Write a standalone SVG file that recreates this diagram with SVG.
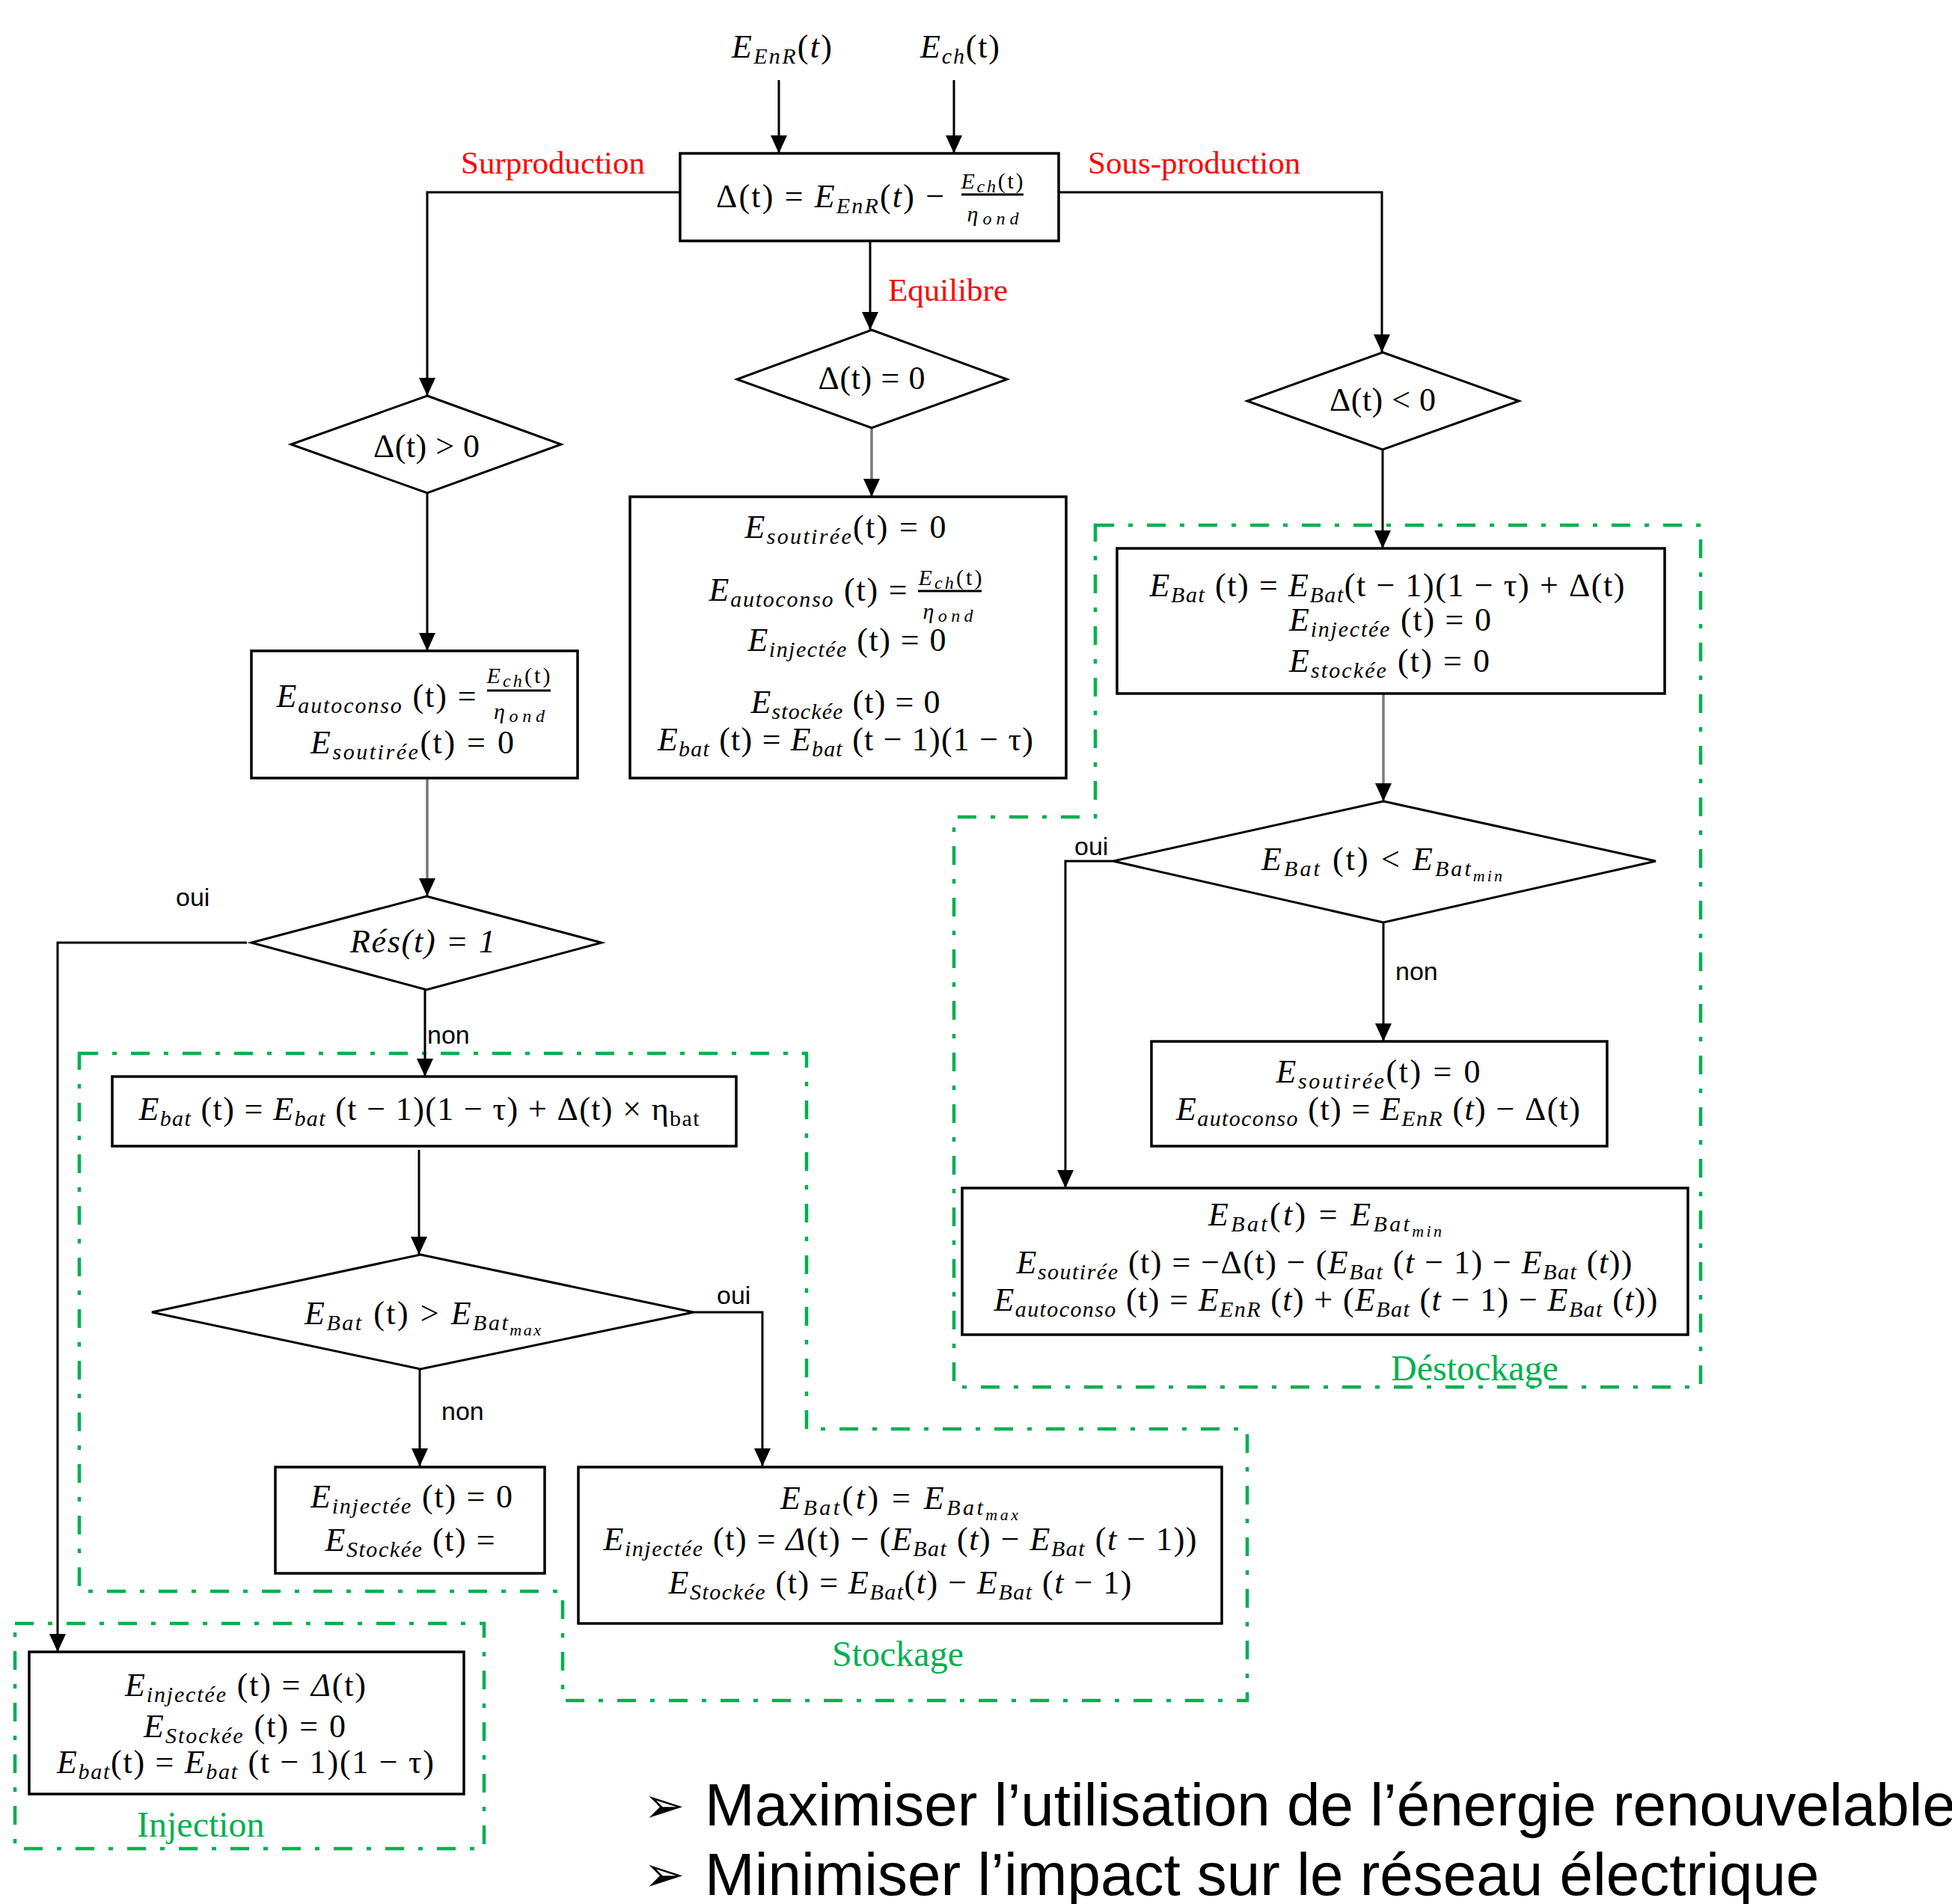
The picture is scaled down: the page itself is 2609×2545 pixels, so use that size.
<svg xmlns="http://www.w3.org/2000/svg" width="2609" height="2545" viewBox="0 0 2609 2545">
<defs>
<style>
.m{font-family:"Liberation Serif","DejaVu Serif",serif;font-size:44px;fill:#000}
.c{text-anchor:middle}
.i{font-style:italic}
.s{font-size:30px;font-style:italic}
.ss{font-size:22px;font-style:italic}
.f{font-family:"Liberation Serif","DejaVu Serif",serif;font-size:30px;fill:#000}
.fs{font-size:24px;font-style:italic}
.lbl{font-family:"Liberation Sans",Arial,sans-serif;font-size:34px;fill:#000}
.red{font-family:"Liberation Serif",serif;font-size:43px;fill:#FF0000}
.grn{font-family:"Liberation Serif",serif;font-size:48px;fill:#00B050}
.box{fill:#fff;stroke:#000;stroke-width:3.5}
.dia{fill:#fff;stroke:#000;stroke-width:3}
.ln{fill:none;stroke:#000;stroke-width:3}
.gl{fill:none;stroke:#7a7a7a;stroke-width:3.5}
.zone{fill:none;stroke:#00B050;stroke-width:4.5;stroke-dasharray:25 19 6 19}
.big{font-family:"Liberation Sans",Arial,sans-serif;font-size:80px;fill:#000}
.bul{font-family:"DejaVu Sans",sans-serif;font-size:66px;fill:#000}
</style>
<marker id="ar" viewBox="0 0 24 22" refX="24" refY="11" markerWidth="24" markerHeight="22" markerUnits="userSpaceOnUse" orient="auto"><path d="M0,0 L24,11 L0,22 z" fill="#000"/></marker>
</defs>
<rect width="2609" height="2545" fill="#fff"/>

<g id="zones">
<path class="zone" d="M1464,702 L2273,702 L2273,1854 L1275,1854 L1275,1092 L1464,1092 Z"/>
<path class="zone" d="M106,1408 L1078,1408 L1078,1910 L1667,1910 L1667,2273 L752,2273 L752,2127 L106,2127 Z"/>
<rect class="zone" x="20" y="2170" width="627" height="301"/>
<text class="grn" x="1859" y="1845">Déstockage</text>
<text class="grn" x="1112" y="2227">Stockage</text>
<text class="grn" x="183" y="2455">Injection</text>
</g>

<g id="connectors">
<line class="ln" x1="1041" y1="107" x2="1041" y2="205" marker-end="url(#ar)"/>
<line class="ln" x1="1275" y1="107" x2="1275" y2="205" marker-end="url(#ar)"/>
<polyline class="ln" points="909,257 571,257 571,529" marker-end="url(#ar)"/>
<polyline class="ln" points="1415,257 1847,257 1847,471" marker-end="url(#ar)"/>
<line class="ln" x1="1163" y1="322" x2="1163" y2="441" marker-end="url(#ar)"/>
<line class="gl" x1="1165" y1="572" x2="1165" y2="664" marker-end="url(#ar)"/>
<line class="ln" x1="571" y1="659" x2="571" y2="870" marker-end="url(#ar)"/>
<line class="ln" x1="1848" y1="601" x2="1848" y2="733" marker-end="url(#ar)"/>
<line class="gl" x1="1849" y1="927" x2="1849" y2="1071" marker-end="url(#ar)"/>
<polyline class="ln" points="1488,1151 1424,1151 1424,1588" marker-end="url(#ar)"/>
<line class="ln" x1="1849" y1="1233" x2="1849" y2="1392" marker-end="url(#ar)"/>
<line class="gl" x1="571" y1="1040" x2="571" y2="1198" marker-end="url(#ar)"/>
<polyline class="ln" points="330,1260 77,1260 77,2208" marker-end="url(#ar)"/>
<line class="ln" x1="568" y1="1323" x2="568" y2="1439" marker-end="url(#ar)"/>
<line class="ln" x1="560" y1="1537" x2="560" y2="1677" marker-end="url(#ar)"/>
<polyline class="ln" points="927,1754 1019,1754 1019,1960" marker-end="url(#ar)"/>
<line class="ln" x1="561" y1="1830" x2="561" y2="1960" marker-end="url(#ar)"/>
<text class="red" x="616" y="232">Surproduction</text>
<text class="red" x="1454" y="232">Sous-production</text>
<text class="red" x="1187" y="402">Equilibre</text>
<text class="lbl" x="1436" y="1143">oui</text>
<text class="lbl" x="1865" y="1310">non</text>
<text class="lbl" x="235" y="1211">oui</text>
<text class="lbl" x="571" y="1395">non</text>
<text class="lbl" x="958" y="1743">oui</text>
<text class="lbl" x="590" y="1898">non</text>
</g>

<g id="inputs">
<text class="m c" x="1045" y="77" textLength="134"><tspan class="i">E</tspan><tspan class="s" dy="8">EnR</tspan><tspan dy="-8">(</tspan><tspan class="i">t</tspan><tspan>)</tspan></text>
<text class="m c" x="1283" y="77" textLength="106"><tspan class="i">E</tspan><tspan class="s" dy="8">ch</tspan><tspan dy="-8">(t)</tspan></text>
</g>

<g id="delta-box">
<rect class="box" x="909" y="205" width="506" height="117"/>
<text class="m" x="957" y="277" textLength="305"><tspan>Δ(t) = </tspan><tspan class="i">E</tspan><tspan class="s" dy="8">EnR</tspan><tspan dy="-8">(</tspan><tspan class="i">t</tspan><tspan>) −</tspan></text>
<text class="f c" x="1326" y="252" textLength="83"><tspan class="i">E</tspan><tspan class="fs" dy="5">ch</tspan><tspan dy="-5">(t)</tspan></text>
<line x1="1285" y1="260" x2="1368" y2="260" stroke="#000" stroke-width="3"/>
<text class="f c i" x="1327" y="296" textLength="69">η<tspan class="fs" dy="4">ond</tspan></text>
</g>

<g id="d-pos">
<polygon class="dia" points="571,529 750,594 571,659 389,594"/>
<text class="m c" x="570" y="611" textLength="142">Δ(t) &gt; 0</text>
</g>
<g id="d-zero">
<polygon class="dia" points="1165,441 1346,507 1165,572 985,507"/>
<text class="m c" x="1165" y="520" textLength="143">Δ(t) = 0</text>
</g>
<g id="d-neg">
<polygon class="dia" points="1848,471 2030,536 1848,601 1667,536"/>
<text class="m c" x="1848" y="549" textLength="142">Δ(t) &lt; 0</text>
</g>

<g id="box-pos">
<rect class="box" x="336" y="870" width="436" height="170"/>
<text class="m c" x="503" y="945" textLength="267"><tspan class="i">E</tspan><tspan class="s" dy="8">autoconso</tspan><tspan dy="-8"> (t) =</tspan></text>
<text class="f c" x="693" y="913" textLength="85"><tspan class="i">E</tspan><tspan class="fs" dy="5">ch</tspan><tspan dy="-5">(t)</tspan></text>
<line x1="651" y1="923" x2="736" y2="923" stroke="#000" stroke-width="3"/>
<text class="f c i" x="694" y="961" textLength="68">η<tspan class="fs" dy="4">ond</tspan></text>
<text class="m c" x="551" y="1007" textLength="272"><tspan class="i">E</tspan><tspan class="s" dy="8">soutirée</tspan><tspan dy="-8">(t) = 0</tspan></text>
</g>

<g id="box-zero">
<rect class="box" x="842" y="664" width="583" height="376"/>
<text class="m c" x="1130" y="719" textLength="269"><tspan class="i">E</tspan><tspan class="s" dy="8">soutirée</tspan><tspan dy="-8">(t) = 0</tspan></text>
<text class="m c" x="1080" y="803" textLength="265"><tspan class="i">E</tspan><tspan class="s" dy="8">autoconso</tspan><tspan dy="-8"> (t) =</tspan></text>
<text class="f c" x="1270" y="782" textLength="85"><tspan class="i">E</tspan><tspan class="fs" dy="5">ch</tspan><tspan dy="-5">(t)</tspan></text>
<line x1="1227" y1="790" x2="1312" y2="790" stroke="#000" stroke-width="3"/>
<text class="f c i" x="1267" y="827" textLength="67">η<tspan class="fs" dy="4">ond</tspan></text>
<text class="m c" x="1132" y="870" textLength="265"><tspan class="i">E</tspan><tspan class="s" dy="8">injectée</tspan><tspan dy="-8"> (t) = 0</tspan></text>
<text class="m c" x="1130" y="953" textLength="253"><tspan class="i">E</tspan><tspan class="s" dy="8">stockée</tspan><tspan dy="-8"> (t) = 0</tspan></text>
<text class="m c" x="1130" y="1003" textLength="502"><tspan class="i">E</tspan><tspan class="s" dy="8">bat</tspan><tspan dy="-8"> (t) = </tspan><tspan class="i">E</tspan><tspan class="s" dy="8">bat</tspan><tspan dy="-8"> (t − 1)(1 − τ)</tspan></text>
</g>

<g id="box-neg">
<rect class="box" x="1493" y="733" width="732" height="194"/>
<text class="m c" x="1854" y="797" textLength="635"><tspan class="i">E</tspan><tspan class="s" dy="8">Bat</tspan><tspan dy="-8"> (t) = </tspan><tspan class="i">E</tspan><tspan class="s" dy="8">Bat</tspan><tspan dy="-8">(t − 1)(1 − τ) + Δ(t)</tspan></text>
<text class="m c" x="1858" y="843" textLength="270"><tspan class="i">E</tspan><tspan class="s" dy="8">injectée</tspan><tspan dy="-8"> (t) = 0</tspan></text>
<text class="m c" x="1857" y="898" textLength="268"><tspan class="i">E</tspan><tspan class="s" dy="8">stockée</tspan><tspan dy="-8"> (t) = 0</tspan></text>
</g>

<g id="d-min">
<polygon class="dia" points="1849,1071 2213,1151 1849,1233 1488,1151"/>
<text class="m c" x="1847" y="1163" textLength="322"><tspan class="i">E</tspan><tspan class="s" dy="8">Bat</tspan><tspan dy="-8"> (t) &lt; </tspan><tspan class="i">E</tspan><tspan class="s" dy="8">Bat</tspan><tspan class="ss" dy="7">min</tspan></text>
</g>

<g id="box-min-non">
<rect class="box" x="1539" y="1392" width="609" height="140"/>
<text class="m c" x="1842" y="1447" textLength="273"><tspan class="i">E</tspan><tspan class="s" dy="8">soutirée</tspan><tspan dy="-8">(t) = 0</tspan></text>
<text class="m c" x="1842" y="1497" textLength="540"><tspan class="i">E</tspan><tspan class="s" dy="8">autoconso</tspan><tspan dy="-8"> (t) = </tspan><tspan class="i">E</tspan><tspan class="s" dy="8">EnR</tspan><tspan dy="-8"> (</tspan><tspan class="i">t</tspan><tspan>) − Δ(t)</tspan></text>
</g>

<g id="box-min-oui">
<rect class="box" x="1286" y="1588" width="970" height="196"/>
<text class="m c" x="1771" y="1638" textLength="312"><tspan class="i">E</tspan><tspan class="s" dy="8">Bat</tspan><tspan dy="-8">(</tspan><tspan class="i">t</tspan><tspan>) = </tspan><tspan class="i">E</tspan><tspan class="s" dy="8">Bat</tspan><tspan class="ss" dy="7">min</tspan></text>
<text class="m c" x="1770" y="1702" textLength="823"><tspan class="i">E</tspan><tspan class="s" dy="8">soutirée</tspan><tspan dy="-8"> (t) = −Δ(t) − (</tspan><tspan class="i">E</tspan><tspan class="s" dy="8">Bat</tspan><tspan dy="-8"> (</tspan><tspan class="i">t</tspan><tspan> − 1) − </tspan><tspan class="i">E</tspan><tspan class="s" dy="8">Bat</tspan><tspan dy="-8"> (</tspan><tspan class="i">t</tspan><tspan>))</tspan></text>
<text class="m c" x="1772" y="1752" textLength="887"><tspan class="i">E</tspan><tspan class="s" dy="8">autoconso</tspan><tspan dy="-8"> (t) = </tspan><tspan class="i">E</tspan><tspan class="s" dy="8">EnR</tspan><tspan dy="-8"> (</tspan><tspan class="i">t</tspan><tspan>) + (</tspan><tspan class="i">E</tspan><tspan class="s" dy="8">Bat</tspan><tspan dy="-8"> (</tspan><tspan class="i">t</tspan><tspan> − 1) − </tspan><tspan class="i">E</tspan><tspan class="s" dy="8">Bat</tspan><tspan dy="-8"> (</tspan><tspan class="i">t</tspan><tspan>))</tspan></text>
</g>

<g id="d-res">
<polygon class="dia" points="570,1198 804,1260 570,1323 336,1260"/>
<text class="m c i" x="565" y="1273" textLength="194">Rés(t) = 1</text>
</g>

<g id="box-charge">
<rect class="box" x="150" y="1439" width="834" height="93"/>
<text class="m c" x="560" y="1497" textLength="749"><tspan class="i">E</tspan><tspan class="s" dy="8">bat</tspan><tspan dy="-8"> (t) = </tspan><tspan class="i">E</tspan><tspan class="s" dy="8">bat</tspan><tspan dy="-8"> (t − 1)(1 − τ) + Δ(t) × η</tspan><tspan dy="8" style="font-size:30px">bat</tspan></text>
</g>

<g id="d-max">
<polygon class="dia" points="562,1677 927,1754 562,1830 203,1754"/>
<text class="m c" x="565" y="1770" textLength="316"><tspan class="i">E</tspan><tspan class="s" dy="8">Bat</tspan><tspan dy="-8"> (t) &gt; </tspan><tspan class="i">E</tspan><tspan class="s" dy="8">Bat</tspan><tspan class="ss" dy="7">max</tspan></text>
</g>

<g id="box-max-non">
<rect class="box" x="368" y="1961" width="360" height="142"/>
<text class="m c" x="550" y="2015" textLength="270"><tspan class="i">E</tspan><tspan class="s" dy="8">injectée</tspan><tspan dy="-8"> (t) = 0</tspan></text>
<text class="m c" x="548" y="2073" textLength="227"><tspan class="i">E</tspan><tspan class="s" dy="8">Stockée</tspan><tspan dy="-8"> (t) =</tspan></text>
</g>

<g id="box-max-oui">
<rect class="box" x="773" y="1961" width="860" height="209"/>
<text class="m c" x="1202" y="2017" textLength="318"><tspan class="i">E</tspan><tspan class="s" dy="8">Bat</tspan><tspan dy="-8">(</tspan><tspan class="i">t</tspan><tspan>) = </tspan><tspan class="i">E</tspan><tspan class="s" dy="8">Bat</tspan><tspan class="ss" dy="7">max</tspan></text>
<text class="m c" x="1203" y="2072" textLength="793"><tspan class="i">E</tspan><tspan class="s" dy="8">injectée</tspan><tspan dy="-8"> (t) = </tspan><tspan class="i">Δ</tspan><tspan>(t) − (</tspan><tspan class="i">E</tspan><tspan class="s" dy="8">Bat</tspan><tspan dy="-8"> (</tspan><tspan class="i">t</tspan><tspan>) − </tspan><tspan class="i">E</tspan><tspan class="s" dy="8">Bat</tspan><tspan dy="-8"> (</tspan><tspan class="i">t</tspan><tspan> − 1))</tspan></text>
<text class="m c" x="1203" y="2130" textLength="619"><tspan class="i">E</tspan><tspan class="s" dy="8">Stockée</tspan><tspan dy="-8"> (t) = </tspan><tspan class="i">E</tspan><tspan class="s" dy="8">Bat</tspan><tspan dy="-8">(</tspan><tspan class="i">t</tspan><tspan>) − </tspan><tspan class="i">E</tspan><tspan class="s" dy="8">Bat</tspan><tspan dy="-8"> (</tspan><tspan class="i">t</tspan><tspan> − 1)</tspan></text>
</g>

<g id="box-injection">
<rect class="box" x="39" y="2208" width="581" height="190"/>
<text class="m c" x="328" y="2267" textLength="322"><tspan class="i">E</tspan><tspan class="s" dy="8">injectée</tspan><tspan dy="-8"> (t) = </tspan><tspan class="i">Δ</tspan><tspan>(t)</tspan></text>
<text class="m c" x="327" y="2322" textLength="270"><tspan class="i">E</tspan><tspan class="s" dy="8">Stockée</tspan><tspan dy="-8"> (t) =  0</tspan></text>
<text class="m c" x="328" y="2370" textLength="504"><tspan class="i">E</tspan><tspan class="s" dy="8">bat</tspan><tspan dy="-8">(t) = </tspan><tspan class="i">E</tspan><tspan class="s" dy="8">bat</tspan><tspan dy="-8"> (t − 1)(1 − τ)</tspan></text>
</g>

<g id="objectives">
<text class="bul" x="860" y="2436">➢</text>
<text class="big" x="942" y="2440">Maximiser l’utilisation de l’énergie renouvelable</text>
<text class="bul" x="860" y="2528">➢</text>
<text class="big" x="942" y="2533">Minimiser l’impact sur le réseau électrique</text>
</g>
</svg>
